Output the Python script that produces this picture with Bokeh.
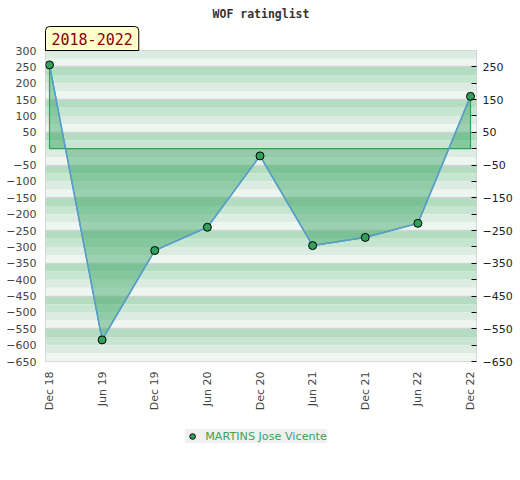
import math
from bokeh.plotting import figure
from bokeh.layouts import column
from bokeh.models import (Range1d, FixedTicker, LinearAxis, Legend, LegendItem,
                          Title)
from bokeh.embed import file_html
from bokeh.resources import INLINE

# ---- data ----
periods = ["Dec 18", "Jun 19", "Dec 19", "Jun 20", "Dec 20",
           "Jun 21", "Dec 21", "Jun 22", "Dec 22"]
ratings = [256, -584, -311, -240, -22, -296, -271, -228, 160]
player = "MARTINS Jose Vicente"
title_text = "WOF ratinglist"
span_text = "2018-2022"
left_ticks = list(range(300, -651, -50))
right_major = list(range(250, -651, -100))
right_minor = list(range(200, -651, -100))

# ---- geometry ----
X0, X1 = -0.076, 8.114
Y0, Y1 = -650, 300
FW, FH = 431, 311

p = figure(frame_width=FW, frame_height=FH, output_backend="svg",
           toolbar_location=None,
           x_range=Range1d(X0, X1), y_range=Range1d(Y0, Y1),
           min_border_left=45, min_border_right=30, min_border_top=50,
           min_border_bottom=0, background_fill_color="white")
p.outline_line_color = "#d0d0d0"
p.xgrid.visible = False
p.ygrid.ticker = FixedTicker(ticks=list(range(250, -651, -100)))
p.ygrid.grid_line_color = "#d4d4d4"
p.ygrid.grid_line_width = 1.5

# title
p.title.text = title_text
p.title.align = "center"
p.title.text_font = "DejaVu Sans Mono"
p.title.text_font_size = "11.5px"
p.title.text_font_style = "bold"
p.title.text_color = "#333333"
p.title.standoff = 8

# period tag just above the frame
tag = Title(text=span_text, align="left", text_font="DejaVu Sans Mono",
            text_font_size="15px", text_font_style="normal",
            text_color="#8b0000", background_fill_color="#ffffcc",
            border_line_color="black", border_line_width=1,
            padding=6, standoff=0, offset=0, border_radius=(4, 4, 0, 0))
p.add_layout(tag, "above")

# background stripes (period 100, 4 shades)
shades = ["#b3dcc1", "#c7e6d1", "#dcece2", "#eef6f1"]
ys, cols = [], []
top = 350
while top > Y0:
    for k in range(4):
        ys.append(top - 25 * k - 12.5)
        cols.append(shades[k])
    top -= 100
stripes = p.hbar(y=ys, height=25, left=X0, right=X1, fill_color=cols,
                 line_color=None)
stripes.level = "image"

# area between rating line and zero
n = len(ratings)
xs = list(range(n))
p.patch([0] + xs + [n - 1], [0] + ratings + [0],
        fill_color="#2ea05a", fill_alpha=0.43,
        line_color="#2ea35a", line_width=1.2)
p.line(xs, ratings, line_color="#5b9bd5", line_width=1.5)
marker_style = dict(size=8, fill_color="#33a05a", line_color="black",
                    line_width=1)
p.scatter(xs, ratings, **marker_style)

# axes
xa = p.xaxis[0]
xa.ticker = FixedTicker(ticks=xs)
xa.major_label_overrides = {i: s for i, s in enumerate(periods)}
xa.major_label_orientation = math.pi / 2
xa.axis_line_color = None
xa.major_tick_line_color = None
xa.minor_tick_line_color = None
xa.major_tick_out = 0
xa.major_tick_in = 0
xa.major_label_standoff = 10
xa.major_label_text_font = "DejaVu Sans"
xa.major_label_text_font_size = "11px"
xa.major_label_text_color = "#444444"

ya = p.yaxis[0]
ya.ticker = FixedTicker(ticks=left_ticks)
ya.axis_line_color = None
ya.major_tick_line_color = None
ya.minor_tick_line_color = None
ya.major_tick_out = 0
ya.major_tick_in = 0
ya.major_label_standoff = 9
ya.major_label_text_font = "DejaVu Sans"
ya.major_label_text_font_size = "11px"
ya.major_label_text_color = "#444444"

ra = LinearAxis(ticker=FixedTicker(ticks=right_major, minor_ticks=right_minor))
ra.axis_line_color = None
ra.major_tick_in = 5
ra.major_tick_out = 0
ra.minor_tick_in = 5
ra.minor_tick_out = 0
ra.major_tick_line_color = "black"
ra.minor_tick_line_color = "black"
ra.major_label_standoff = 6
ra.major_label_text_font = "DejaVu Sans"
ra.major_label_text_font_size = "11px"
ra.major_label_text_color = "#222222"
p.add_layout(ra, "right")

# legend in a small strip figure below the chart (series points lie
# outside this strip's ranges, only the legend entry shows)
q = figure(width=506, height=46, output_backend="svg", toolbar_location=None,
           x_range=Range1d(0, 1), y_range=Range1d(0, 1),
           min_border=0, outline_line_color=None)
q.axis.visible = False
q.grid.visible = False
leg_r = q.scatter(xs, ratings, **marker_style)
legend = Legend(items=[LegendItem(label=player, renderers=[leg_r])],
                location="center", orientation="horizontal")
legend.background_fill_color = "#f0f0f0"
legend.background_fill_alpha = 1
legend.border_line_color = None
legend.label_text_color = "#3aa35c"
legend.label_text_font = "DejaVu Sans"
legend.label_text_font_size = "11.2px"
legend.glyph_width = 14
legend.glyph_height = 14
legend.label_standoff = 6
legend.padding = 5
legend.margin = 0
q.add_layout(legend)

layout = column(p, q, spacing=0)
open("out.html", "w").write(file_html(layout, INLINE))
